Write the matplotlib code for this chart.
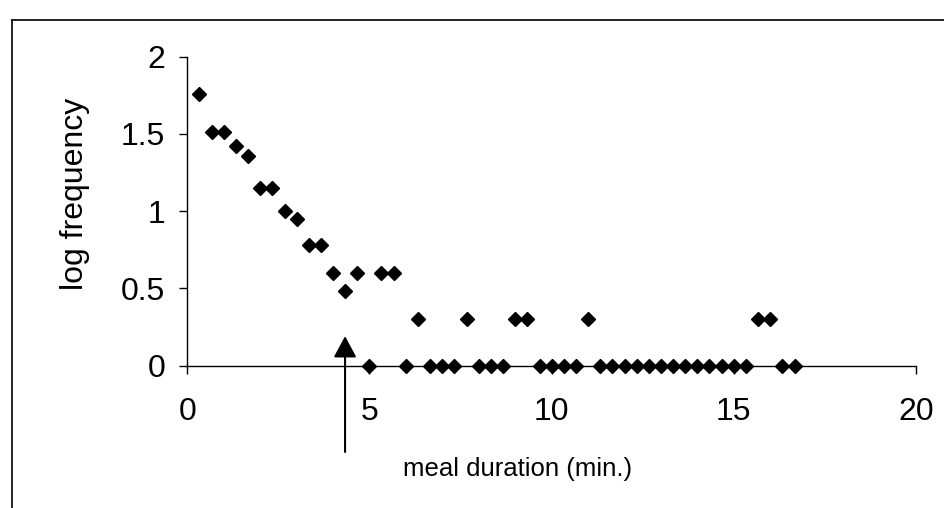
import matplotlib
matplotlib.use("Agg")
import matplotlib.pyplot as plt
from matplotlib.lines import Line2D

plt.rcParams['font.family'] = ['Liberation Sans', 'DejaVu Sans']

# meal duration bins (min.)
duration = [0.33, 0.67, 1.00, 1.33, 1.67, 2.00, 2.33, 2.67, 3.00, 3.33,
            3.67, 4.00, 4.33, 4.67, 5.00, 5.33, 5.67, 6.00, 6.33, 6.67,
            7.00, 7.33, 7.67, 8.00, 8.33, 8.67, 9.00, 9.33, 9.67, 10.00,
            10.33, 10.67, 11.00, 11.33, 11.67, 12.00, 12.33, 12.67, 13.00, 13.33,
            13.67, 14.00, 14.33, 14.67, 15.00, 15.33, 15.67, 16.00, 16.33, 16.67]
# log10 frequency
log_freq = [1.76, 1.51, 1.51, 1.42, 1.36, 1.15, 1.15, 1.00, 0.95, 0.78,
            0.78, 0.60, 0.48, 0.60, 0.00, 0.60, 0.60, 0.00, 0.30, 0.00,
            0.00, 0.00, 0.30, 0.00, 0.00, 0.00, 0.30, 0.30, 0.00, 0.00,
            0.00, 0.00, 0.30, 0.00, 0.00, 0.00, 0.00, 0.00, 0.00, 0.00,
            0.00, 0.00, 0.00, 0.00, 0.00, 0.00, 0.30, 0.30, 0.00, 0.00]

x_ticks = [0, 5, 10, 15, 20]
y_ticks = [0, 0.5, 1, 1.5, 2]
y_tick_labels = ['0', '0.5', '1', '1.5', '2']
arrow_x = 4.33
x_label = 'meal duration (min.)'
y_label = 'log frequency'

W, H = 945, 508
fig = plt.figure(figsize=(W / 100, H / 100), dpi=100)
ax = fig.add_axes([187.3 / W, (H - 365.5) / H, (916 - 187.3) / W, (365.5 - 56.7) / H])

ax.plot(duration, log_freq, linestyle='none', marker='D', markersize=7.5,
        color='black', clip_on=False, zorder=3)

ax.set_xlim(0, 20)
ax.set_ylim(0, 2)
ax.set_xticks(x_ticks)
ax.set_yticks(y_ticks)
ax.set_yticklabels(y_tick_labels)
for s in ['top', 'right']:
    ax.spines[s].set_visible(False)
for s in ['left', 'bottom']:
    ax.spines[s].set_linewidth(1.0)
ax.tick_params(axis='y', direction='out', length=6, width=1, labelsize=23, pad=10)
ax.tick_params(axis='x', direction='out', length=6, width=1, labelsize=23, pad=17)

ax.annotate('', xy=(arrow_x, 0.19), xytext=(arrow_x, -0.56),
            xycoords='data', textcoords='data', annotation_clip=False,
            arrowprops=dict(arrowstyle='-|>,head_length=1.3,head_width=0.7',
                            color='black', lw=1.5, shrinkA=0, shrinkB=0))

fig.text(518 / W, (H - 476) / H, x_label, ha='center', va='baseline', fontsize=18.5)
fig.text(75 / W, (H - 194) / H, y_label, ha='center', va='center', rotation=90, fontsize=23)

# outer frame lines
fig.add_artist(Line2D([12 / W, 12 / W], [0, (H - 20) / H], color='black', lw=1.2,
                      transform=fig.transFigure))
fig.add_artist(Line2D([12 / W, 1.0], [(H - 20) / H, (H - 20) / H], color='black', lw=1.2,
                      transform=fig.transFigure))

fig.savefig('out.png', dpi=100)
